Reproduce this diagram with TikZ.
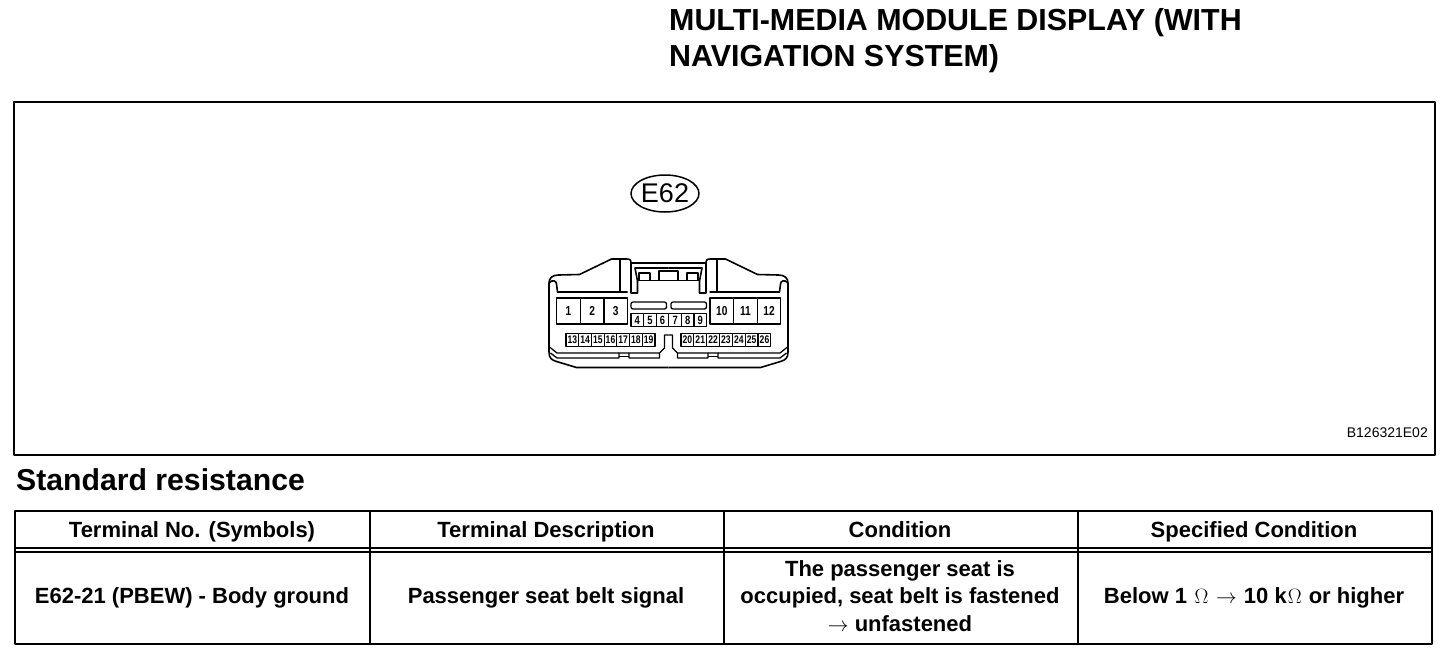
\documentclass[tikz,border=0pt]{standalone}
\usepackage{fontspec}
\setmainfont{Liberation Sans}
\newfontfamily\pinfont[FakeStretch=0.78]{Liberation Sans}
\usetikzlibrary{shapes.geometric, positioning}

\begin{document}
\begin{tikzpicture}[x=1pt, y=-1pt, line join=round]

\tikzset{
  frame/.style = {draw, line width=2pt},
  rule/.style = {line width=2pt},
  cellhead/.style = {font=\fontsize{22}{27.5}\selectfont\bfseries, align=center},
  pinbig/.style = {draw, line width=1.2pt, minimum width=23.6pt, minimum height=26pt, inner sep=0pt, font=\pinfont\fontsize{13}{14}\selectfont\bfseries},
  pinmid/.style = {draw, line width=1.2pt, minimum width=12.6pt, minimum height=12.5pt, inner sep=0pt, font=\pinfont\fontsize{12}{13}\selectfont\bfseries},
  pinsmall/.style = {draw, line width=1.1pt, minimum width=12.75pt, minimum height=13pt, inner sep=0pt, font=\pinfont\fontsize{11}{12}\selectfont\bfseries},
  shell/.style = {line width=1.6pt},
  inner/.style = {line width=1.3pt}
}

\useasboundingbox (0,0) rectangle (1456,654);

%Title and frame
\node [anchor=north west, inner sep=0pt, align=left, font=\fontsize{30.4}{36}\selectfont\bfseries] (title) at (669,8.5) {MULTI-MEDIA MODULE DISPLAY (WITH\\NAVIGATION SYSTEM)};
\node [frame, minimum width=1421.5pt, minimum height=353pt, inner sep=0pt, anchor=north west] (panel) at (12.8,100.8) {};
\node [draw, ellipse, line width=1.5pt, minimum width=68pt, minimum height=37pt, inner sep=0pt, font=\fontsize{27}{30}\selectfont] (plug) at (665,193.5) {E62};
\node [anchor=east, inner sep=0pt, font=\fontsize{14}{16}\selectfont] (code) at (1428,433) {B126321E02};

%Connector shell, one half and its mirror image
\foreach \s in {1,-1} {
\begin{scope}[shift={(668.5,0)}, xscale=\s]
  \draw [shell] (0,367.5) -- (92,367.5) -- (112,361.5) .. controls (117,360) and (119.5,358) .. (119.5,352) -- (119.5,283) .. controls (119.5,278) and (116,275) .. (110,275) -- (89,274.5) -- (57,259) -- (42,259) .. controls (38,259) and (37.5,260) .. (37.5,264) -- (37.5,293) -- (31,293) -- (31,281) -- (33.5,268) -- (0,268);
  \draw [shell] (0,263) -- (37.5,263);
  \draw [shell] (48.5,259) -- (48.5,292);
  \draw [shell] (41,292) -- (111,292) -- (112,284) .. controls (112,281) and (116,279) .. (119.5,283);
  %Latch windows
  \draw [inner] (0,280.5) -- (31,280.5);
  \draw [inner] (18.5,280.5) -- (18.5,273) -- (29.5,273) -- (29.5,280.5);
  \draw [inner] (0,271) -- (9.5,271) -- (9.5,280.5);
  %Notch and lower ledges
  \draw [inner] (0,335) -- (4,335) -- (4,348) -- (9,353) -- (39.5,353) -- (39.5,358) -- (9,358) -- (9,353);
  \draw [inner] (39.5,353) -- (49.5,353) -- (49.5,358) -- (111.5,358) -- (118,353);
  \draw [inner] (49.5,353) -- (111.5,353) -- (119,347);
  \draw [inner] (39.5,356.5) -- (49.5,356.5);
\end{scope}
}

%Slots above the middle row
\draw [inner, rounded corners=2pt] (631,302) rectangle (666.5,309);
\draw [inner, rounded corners=2pt] (671,302) rectangle (706.5,309);

%Terminals
\foreach \n [count=\i from 0] in {1,2,3}
  \node [pinbig] (pin\n) at (568.5+23.6*\i,311) {\n};
\foreach \n [count=\i from 0] in {10,11,12}
  \node [pinbig] (pin\n) at (721.8+23.6*\i,311) {\n};
\foreach \n [count=\i from 0] in {4,5,6,7,8,9}
  \node [pinmid] (pin\n) at (637.3+12.6*\i,320) {\n};
\foreach \n [count=\i from 0] in {13,14,15,16,17,18,19}
  \node [pinsmall] (pin\n) at (572.4+12.7*\i,340) {\n};
\foreach \n [count=\i from 0] in {20,21,22,23,24,25,26}
  \node [pinsmall] (pin\n) at (687.4+12.85*\i,340) {\n};

%Table
\node [minimum width=1417pt, minimum height=132.5pt, inner sep=0pt, anchor=north west] (table) at (14.5,511) {};
\draw [frame] (table.north west) rectangle (table.south east);
\coordinate (rowa) at (14.5,548);
\coordinate (rowb) at (14.5,552);
\draw [line width=2.8pt] (rowa) -- (rowa -| table.east);
\draw [line width=1.6pt] (rowb) -- (rowb -| table.east);
\foreach \c/\x in {one/369.5, two/723.5, three/1077.5} {
  \coordinate (\c) at (\x,511);
  \draw [rule] (\c) -- (\c |- table.south);
}
\node [cellhead, anchor=base] (heada) at (192,537) {Terminal No. (Symbols)};
\node [cellhead, anchor=base] (headb) at (546,537) {Terminal Description};
\node [cellhead, anchor=base] (headc) at (900,537) {Condition};
\node [cellhead, anchor=base] (headd) at (1254,537) {Specified Condition};
\node [cellhead, anchor=base] (cella) at (192,603) {E62-21 (PBEW) - Body ground};
\node [cellhead, anchor=base] (cellb) at (546,603) {Passenger seat belt signal};
\node [cellhead] (cellc) at (900,596) {The passenger seat is\\occupied, seat belt is fastened\\$\rightarrow$ unfastened};
\node [cellhead, anchor=base] (celld) at (1254,603) {Below 1 \hspace{1.5pt}$\Omega$\hspace{1.5pt} $\rightarrow$\hspace{1pt} 10 k\hspace{1pt}$\Omega$\hspace{1pt} or higher};
\node [anchor=west, inner sep=0pt, font=\fontsize{30.2}{36}\selectfont\bfseries] (std) at (16,480) {Standard resistance};
\end{tikzpicture}
\end{document}
